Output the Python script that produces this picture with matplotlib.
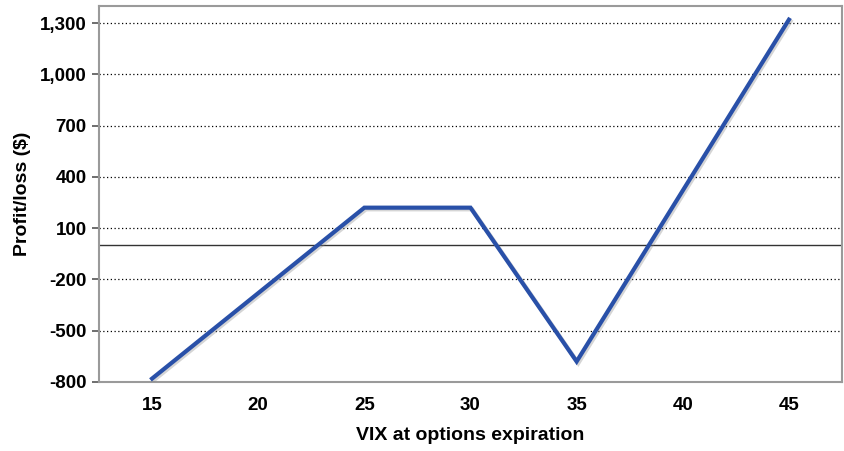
import matplotlib
matplotlib.use("Agg")
import matplotlib.pyplot as plt
import matplotlib.patheffects as pe
from matplotlib.ticker import FuncFormatter

# VIX level at expiration vs profit/loss of the position
vix = [15, 25, 30, 35, 45]
pnl = [-780, 220, 220, -680, 1320]

x_ticks = [15, 20, 25, 30, 35, 40, 45]
y_ticks = [-800, -500, -200, 100, 400, 700, 1000, 1300]

LINE_COLOUR = "#2950A8"
SPINE_COLOUR = "#9A9A9A"

plt.rcParams["font.family"] = ["Liberation Sans", "DejaVu Sans"]

fig = plt.figure(figsize=(8.44, 4.51), dpi=100)
ax = fig.add_axes([0.1173, 0.153, 0.8803, 0.8337])

for yt in y_ticks:
    ax.axhline(yt, color="black", linewidth=0.9, linestyle=(0, (1, 2)), zorder=1)
ax.axhline(0, color="#333333", linewidth=1.0, zorder=2)

ax.plot(
    vix, pnl, color=LINE_COLOUR, linewidth=3.0, solid_joinstyle="miter", zorder=3,
    path_effects=[pe.SimpleLineShadow(offset=(1.2, -1.2), shadow_color="#888888", alpha=0.35),
                  pe.Normal()],
)

ax.set_xlim(12.5, 47.5)
ax.set_ylim(-800, 1400)
ax.set_xticks(x_ticks)
ax.set_yticks(y_ticks)
ax.yaxis.set_major_formatter(FuncFormatter(lambda v, _: f"{int(v):,}"))

for s in ax.spines.values():
    s.set_color(SPINE_COLOUR)
    s.set_linewidth(1.5)

ax.tick_params(axis="x", length=0, pad=11, labelsize=13.5)
ax.tick_params(axis="y", length=5, width=1.2, color="#555555", pad=4, labelsize=13.5)
for lbl in ax.get_xticklabels() + ax.get_yticklabels():
    lbl.set_fontweight("bold")

ax.set_xlabel("VIX at options expiration", fontsize=14, fontweight="bold", labelpad=9)
ax.set_ylabel("Profit/loss ($)", fontsize=14, fontweight="bold", labelpad=6)

fig.savefig("out.png", dpi=100)
plt.close(fig)
